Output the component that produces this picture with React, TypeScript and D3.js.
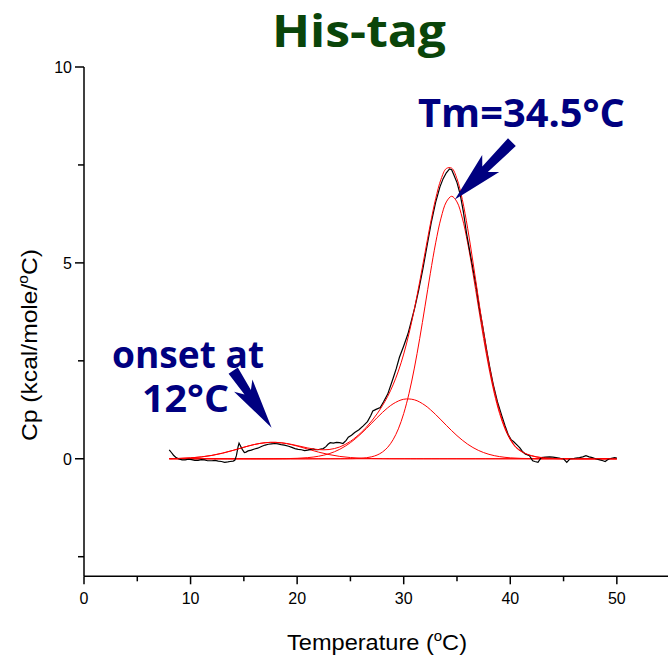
import React from "react";
import * as d3 from "d3";

// ---------- data ----------
const xTickValues = [0, 10, 20, 30, 40, 50];
const xMinorTicks = [5, 15, 25, 35, 45];
const yTickValues = [0, 5, 10];
const yMinorTicks = [-2.5, 2.5, 7.5];

// measured DSC trace (black)
const dataT = [8.0, 8.2, 8.4, 8.6, 8.85, 9.2, 9.5, 9.8, 10.1, 10.4, 10.7, 11.0, 11.3, 11.6, 12.0, 12.3, 12.6, 12.9, 13.2, 13.5, 13.7, 14.0, 14.15, 14.3, 14.45, 14.55, 14.7, 14.85, 15.05, 15.2, 15.4, 15.7, 16.0, 16.3, 16.7, 17.0, 17.3, 17.6, 17.9, 18.2, 18.5, 18.8, 19.2, 19.5, 19.8, 20.1, 20.4, 20.7, 21.0, 21.3, 21.5, 21.75, 21.95, 22.2, 22.45, 22.7, 22.9, 23.1, 23.4, 23.7, 24.0, 24.3, 24.6, 24.8, 25.1, 25.4, 25.8, 26.2, 26.6, 26.9, 27.1, 27.4, 27.8, 28.1, 28.5, 29.0, 29.3, 29.6, 30.0, 30.4, 30.7, 31.05, 31.4, 31.8, 32.2, 32.6, 33.0, 33.4, 33.7, 34.0, 34.3, 34.5, 34.7, 35.0, 35.3, 35.6, 35.9, 36.2, 36.5, 36.8, 37.1, 37.4, 37.8, 38.1, 38.4, 38.8, 39.2, 39.5, 39.8, 40.1, 40.3, 40.6, 40.9, 41.1, 41.4, 41.8, 42.1, 42.3, 42.6, 42.9, 43.3, 43.7, 44.0, 44.3, 44.7, 45.0, 45.3, 45.6, 46.0, 46.5, 46.8, 47.1, 47.4, 47.7, 48.0, 48.4, 48.7, 48.9, 49.1, 49.3, 49.6, 49.8, 50.0];
const dataCp = [0.23, 0.16, 0.09, 0.04, 0.0, -0.03, -0.03, -0.01, -0.02, -0.04, -0.04, -0.02, -0.03, -0.05, -0.05, -0.04, -0.06, -0.07, -0.09, -0.08, -0.07, -0.06, -0.04, 0.08, 0.30, 0.40, 0.32, 0.24, 0.16, 0.17, 0.20, 0.22, 0.25, 0.27, 0.32, 0.35, 0.37, 0.38, 0.39, 0.38, 0.36, 0.35, 0.32, 0.29, 0.26, 0.24, 0.23, 0.21, 0.22, 0.24, 0.25, 0.23, 0.23, 0.25, 0.26, 0.31, 0.37, 0.41, 0.40, 0.42, 0.41, 0.39, 0.47, 0.55, 0.60, 0.67, 0.74, 0.84, 0.95, 1.10, 1.22, 1.26, 1.31, 1.45, 1.65, 2.05, 2.30, 2.59, 2.88, 3.19, 3.50, 3.87, 4.30, 4.85, 5.45, 6.05, 6.55, 6.94, 7.15, 7.30, 7.40, 7.38, 7.25, 7.05, 6.75, 6.30, 5.75, 5.30, 4.85, 4.40, 3.85, 3.40, 2.75, 2.30, 1.90, 1.45, 1.10, 0.85, 0.62, 0.48, 0.44, 0.36, 0.28, 0.20, 0.12, 0.08, -0.05, -0.07, -0.09, 0.03, 0.04, 0.05, 0.04, 0.03, 0.01, 0.0, -0.09, 0.0, 0.01, 0.03, 0.05, 0.08, 0.05, 0.03, 0.0, -0.03, -0.05, -0.07, -0.03, 0.0, 0.02, 0.03, 0.02];

// fitted components (red)
const comp1T = [8, 9, 10, 11, 12, 13, 14, 15, 16, 17, 18, 19, 20, 21, 22, 23, 24, 25, 26, 27, 28, 29, 50];
const comp1Cp = [0.004, 0.010, 0.023, 0.047, 0.086, 0.143, 0.215, 0.294, 0.365, 0.410, 0.418, 0.387, 0.324, 0.247, 0.170, 0.107, 0.060, 0.031, 0.015, 0.006, 0.002, 0, 0];

const comp2T = [8, 17, 18, 19, 20, 21, 22, 23, 24, 25, 26, 27, 28, 29, 30, 31, 32, 33, 34, 35, 36, 37, 38, 39, 40, 41, 42, 43, 44, 50];
const comp2Cp = [0, 0, 0.001, 0.004, 0.012, 0.029, 0.064, 0.129, 0.242, 0.411, 0.640, 0.909, 1.181, 1.401, 1.519, 1.505, 1.364, 1.128, 0.853, 0.590, 0.372, 0.215, 0.113, 0.055, 0.024, 0.010, 0.004, 0.001, 0, 0];

const comp3T = [8, 25, 26, 26.5, 27, 27.5, 28, 28.5, 29, 29.5, 30, 30.5, 31, 31.5, 32, 32.5, 33, 33.5, 34, 34.5, 35, 35.5, 36, 36.5, 37, 37.5, 38, 38.5, 39, 39.5, 40, 40.5, 41, 41.5, 42, 42.5, 43, 43.5, 44, 45, 50];
const comp3Cp = [0, 0.003, 0.013, 0.026, 0.051, 0.095, 0.171, 0.294, 0.485, 0.764, 1.154, 1.670, 2.315, 3.068, 3.895, 4.735, 5.512, 6.143, 6.556, 6.700, 6.556, 6.143, 5.512, 4.735, 3.895, 3.068, 2.315, 1.670, 1.154, 0.764, 0.485, 0.294, 0.190, 0.120, 0.075, 0.045, 0.028, 0.016, 0.008, 0.002, 0];

const totalT = [8, 9, 10, 11, 12, 13, 14, 15, 16, 17, 18, 19, 20, 21, 22, 23, 24, 25, 26, 26.5, 27, 27.5, 28, 28.5, 29, 29.5, 30, 30.5, 31, 31.5, 32, 32.5, 33, 33.5, 34, 34.5, 35, 35.5, 36, 36.5, 37, 37.5, 38, 38.5, 39, 39.5, 40, 40.5, 41, 41.5, 42, 42.5, 43, 44, 45, 46, 50];
const totalCp = [0.004, 0.010, 0.023, 0.047, 0.086, 0.143, 0.215, 0.294, 0.365, 0.410, 0.419, 0.391, 0.336, 0.276, 0.234, 0.236, 0.302, 0.445, 0.668, 0.807, 0.966, 1.147, 1.354, 1.594, 1.886, 2.239, 2.673, 3.200, 3.820, 4.517, 5.259, 5.989, 6.640, 7.135, 7.409, 7.418, 7.146, 6.617, 5.884, 5.021, 4.110, 3.226, 2.428, 1.750, 1.209, 0.801, 0.509, 0.309, 0.200, 0.126, 0.079, 0.047, 0.029, 0.008, 0.002, 0, 0];

const baselineT = [8, 50];
const baselineCp = [0, 0];

// annotation anchors (data coordinates)
const tmArrow = { tail: [40.15, 8.08], tip: [34.8, 6.62] };
const onsetArrow = { tail: [14.0, 2.25], tip: [17.6, 0.79] };

const W = 668;
const H = 661;

const FONT = "'Liberation Sans', Arial, sans-serif";
const FUN = "'Open Sans', 'DejaVu Sans', sans-serif";
const NAVY = "#000080";

function arrowPath(x: d3.ScaleLinear<number, number>, y: d3.ScaleLinear<number, number>, a: { tail: number[]; tip: number[] }, halfW: number, notch: number, barb: number, barbW: number) {
  const tx = x(a.tail[0]), ty = y(a.tail[1]);
  const px = x(a.tip[0]), py = y(a.tip[1]);
  const L = Math.hypot(px - tx, py - ty);
  const ux = (px - tx) / L, uy = (py - ty) / L;
  const nx = -uy, ny = ux;
  const P = (al: number, pe: number) => [tx + ux * al + nx * pe, ty + uy * al + ny * pe];
  const pts = [
    P(0, -halfW), P(notch, -halfW * 0.7), P(barb, -barbW), P(L, 0),
    P(barb, barbW), P(notch, halfW * 0.7), P(0, halfW),
  ];
  return "M" + pts.map((p) => p[0].toFixed(1) + "," + p[1].toFixed(1)).join("L") + "Z";
}

export default function App() {
  const x = d3.scaleLinear().domain([0, 54.8]).range([84, 668]);
  const y = d3.scaleLinear().domain([-3, 10]).range([576.3, 67]);

  const smooth = (ts: number[], vs: number[]) =>
    d3.line<number>().x((_, i) => x(ts[i])).y((v) => y(v)).curve(d3.curveCatmullRom.alpha(0.5))(vs) || "";
  const raw = (ts: number[], vs: number[]) =>
    d3.line<number>().x((_, i) => x(ts[i])).y((v) => y(v))(vs) || "";

  const x0 = x(0);
  const yBottom = y(-3);

  return (
    <svg width={W} height={H} style={{ position: "absolute", left: 0, top: 0, background: "#fff" }}>
      <rect width={W} height={H} fill="#fff" />
      {/* title */}
      <text x={359} y={47} textAnchor="middle" fontFamily={FUN} fontWeight={700} fontSize={44} fill="#0a450a" textLength={174} lengthAdjust="spacingAndGlyphs">His-tag</text>

      {/* axes */}
      <line x1={x0} x2={x0} y1={y(10)} y2={yBottom} stroke="#000" strokeWidth={1.5} />
      <line x1={x0} x2={668} y1={yBottom} y2={yBottom} stroke="#000" strokeWidth={1.5} />
      {xTickValues.map((t) => (
        <g key={"xt" + t}>
          <line x1={x(t)} x2={x(t)} y1={yBottom} y2={yBottom + 8} stroke="#000" strokeWidth={1.5} />
          <text x={x(t)} y={604} textAnchor="middle" fontFamily={FONT} fontSize={16} fill="#000">{t}</text>
        </g>
      ))}
      {xMinorTicks.map((t) => (
        <line key={"xm" + t} x1={x(t)} x2={x(t)} y1={yBottom} y2={yBottom + 5} stroke="#000" strokeWidth={1.5} />
      ))}
      {yTickValues.map((t) => (
        <g key={"yt" + t}>
          <line x1={x0 - 9} x2={x0} y1={y(t)} y2={y(t)} stroke="#000" strokeWidth={1.5} />
          <text x={72} y={y(t) + 6} textAnchor="end" fontFamily={FONT} fontSize={16} fill="#000">{t}</text>
        </g>
      ))}
      {yMinorTicks.map((t) => (
        <line key={"ym" + t} x1={x0 - 6} x2={x0} y1={y(t)} y2={y(t)} stroke="#000" strokeWidth={1.5} />
      ))}

      {/* axis titles */}
      <text x={377} y={650} textAnchor="middle" fontFamily={FONT} fontSize={22} fill="#000" textLength={180} lengthAdjust="spacingAndGlyphs">
        Temperature (<tspan dy={-9} fontSize={14}>o</tspan><tspan dy={9}>C)</tspan>
      </text>
      <text transform="translate(37,345) rotate(-90)" textAnchor="middle" fontFamily={FONT} fontSize={22} fill="#000" textLength={192} lengthAdjust="spacingAndGlyphs">
        Cp (kcal/mole/<tspan dy={-9} fontSize={14}>o</tspan><tspan dy={9}>C)</tspan>
      </text>

      {/* curves */}
      <path d={raw(baselineT, baselineCp)} fill="none" stroke="#ff0000" strokeWidth={1.2} />
      <path d={smooth(comp1T, comp1Cp)} fill="none" stroke="#ff0000" strokeWidth={1} />
      <path d={smooth(comp2T, comp2Cp)} fill="none" stroke="#ff0000" strokeWidth={1} />
      <path d={smooth(comp3T, comp3Cp)} fill="none" stroke="#ff0000" strokeWidth={1} />
      <path d={raw(dataT, dataCp)} fill="none" stroke="#000" strokeWidth={1.2} />
      <path d={smooth(totalT, totalCp)} fill="none" stroke="#ff0000" strokeWidth={1} />

      {/* annotations */}
      <text x={418} y={127} fontFamily={FUN} fontWeight={700} fontSize={40} fill={NAVY} textLength={207} lengthAdjust="spacingAndGlyphs">Tm=34.5{"\u00B0"}C</text>
      <path d={arrowPath(x, y, tmArrow, 5.5, 38, 30, 12)} fill={NAVY} />
      <text x={112} y={368} fontFamily={FUN} fontWeight={700} fontSize={38} fill={NAVY} textLength={152} lengthAdjust="spacingAndGlyphs">onset at</text>
      <text x={142} y={412} fontFamily={FUN} fontWeight={700} fontSize={38} fill={NAVY} textLength={87} lengthAdjust="spacingAndGlyphs">12{"\u00B0"}C</text>
      <path d={arrowPath(x, y, onsetArrow, 5.5, 26, 18, 11)} fill={NAVY} />
    </svg>
  );
}
